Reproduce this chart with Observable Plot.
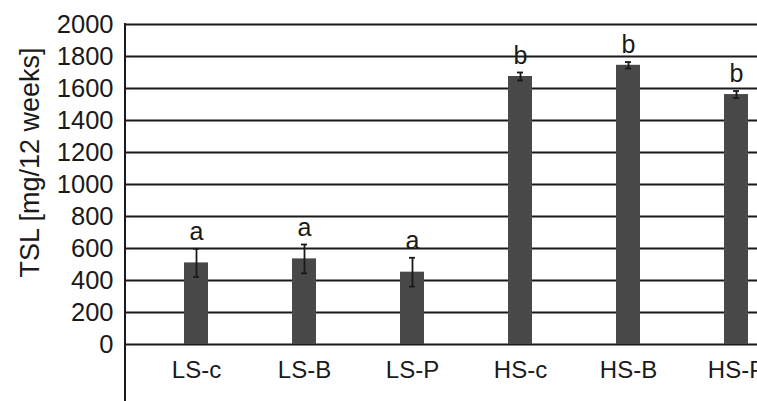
<!DOCTYPE html>
<html><head>
<meta charset="utf-8">
<script src="https://cdn.jsdelivr.net/npm/d3@7"></script>
<script src="https://cdn.jsdelivr.net/npm/@observablehq/plot@0.6"></script>
<style>body{margin:0;background:#fff}</style>
</head><body><div id="chart"></div>
<script>
const categories = ["LS-c", "LS-B", "LS-P", "HS-c", "HS-B", "HS-P"];
const means = [510, 535, 452, 1675, 1745, 1562];
const errors = [88, 90, 90, 25, 20, 22];
const letters = ["a", "a", "a", "b", "b", "b"];
const yTicks = [0, 200, 400, 600, 800, 1000, 1200, 1400, 1600, 1800, 2000];
const yLabel = "TSL [mg/12 weeks]";

const data = categories.map((c, i) => ({
  cat: c, v: means[i], lo: means[i] - errors[i], hi: means[i] + errors[i], letter: letters[i]
}));

const W = 757, H = 401, mL = 125, mT = 24, mB = 57;
const ink = "#1a1a1a";

const plot = Plot.plot({
  width: W, height: H, marginTop: mT, marginBottom: mB, marginLeft: mL, marginRight: 0,
  style: {fontFamily: "'Liberation Sans', Arial, sans-serif", fontSize: "24px", color: ink, background: "#fff"},
  x: {domain: categories, range: [mL, 806], paddingInner: 0.7784, paddingOuter: 0.533, label: null},
  y: {domain: [0, 2000], label: null},
  marks: [
    Plot.ruleY(yTicks, {stroke: ink, strokeWidth: 1.8}),
    Plot.barY(data, {x: "cat", y: "v", fill: "#484848"}),
    Plot.ruleX(data, {x: "cat", y1: "lo", y2: "hi", stroke: ink, strokeWidth: 1.8}),
    Plot.tickY(data, {x: "cat", y: "lo", insetLeft: 9, insetRight: 9, stroke: ink, strokeWidth: 1.8}),
    Plot.tickY(data, {x: "cat", y: "hi", insetLeft: 9, insetRight: 9, stroke: ink, strokeWidth: 1.8}),
    Plot.text(data, {x: "cat", y: "hi", text: "letter", lineAnchor: "bottom", dy: -9, fontSize: 25, fill: ink}),
    Plot.axisY({ticks: yTicks, tickFormat: d => String(d), tickSize: 0, tickPadding: 12, fontSize: 25.5, label: null}),
    Plot.axisX({tickSize: 0, tickPadding: 16, fontSize: 24, label: null}),
    Plot.text([yLabel], {frameAnchor: "left", textAnchor: "middle", rotate: -90, dx: -95, dy: -22, fontSize: 27, fill: ink})
  ]
});

d3.select(plot).append("line")
  .attr("x1", mL).attr("x2", mL).attr("y1", mT - 1).attr("y2", H)
  .attr("stroke", ink).attr("stroke-width", 2);

document.getElementById("chart").appendChild(plot);
</script>
</body></html>
